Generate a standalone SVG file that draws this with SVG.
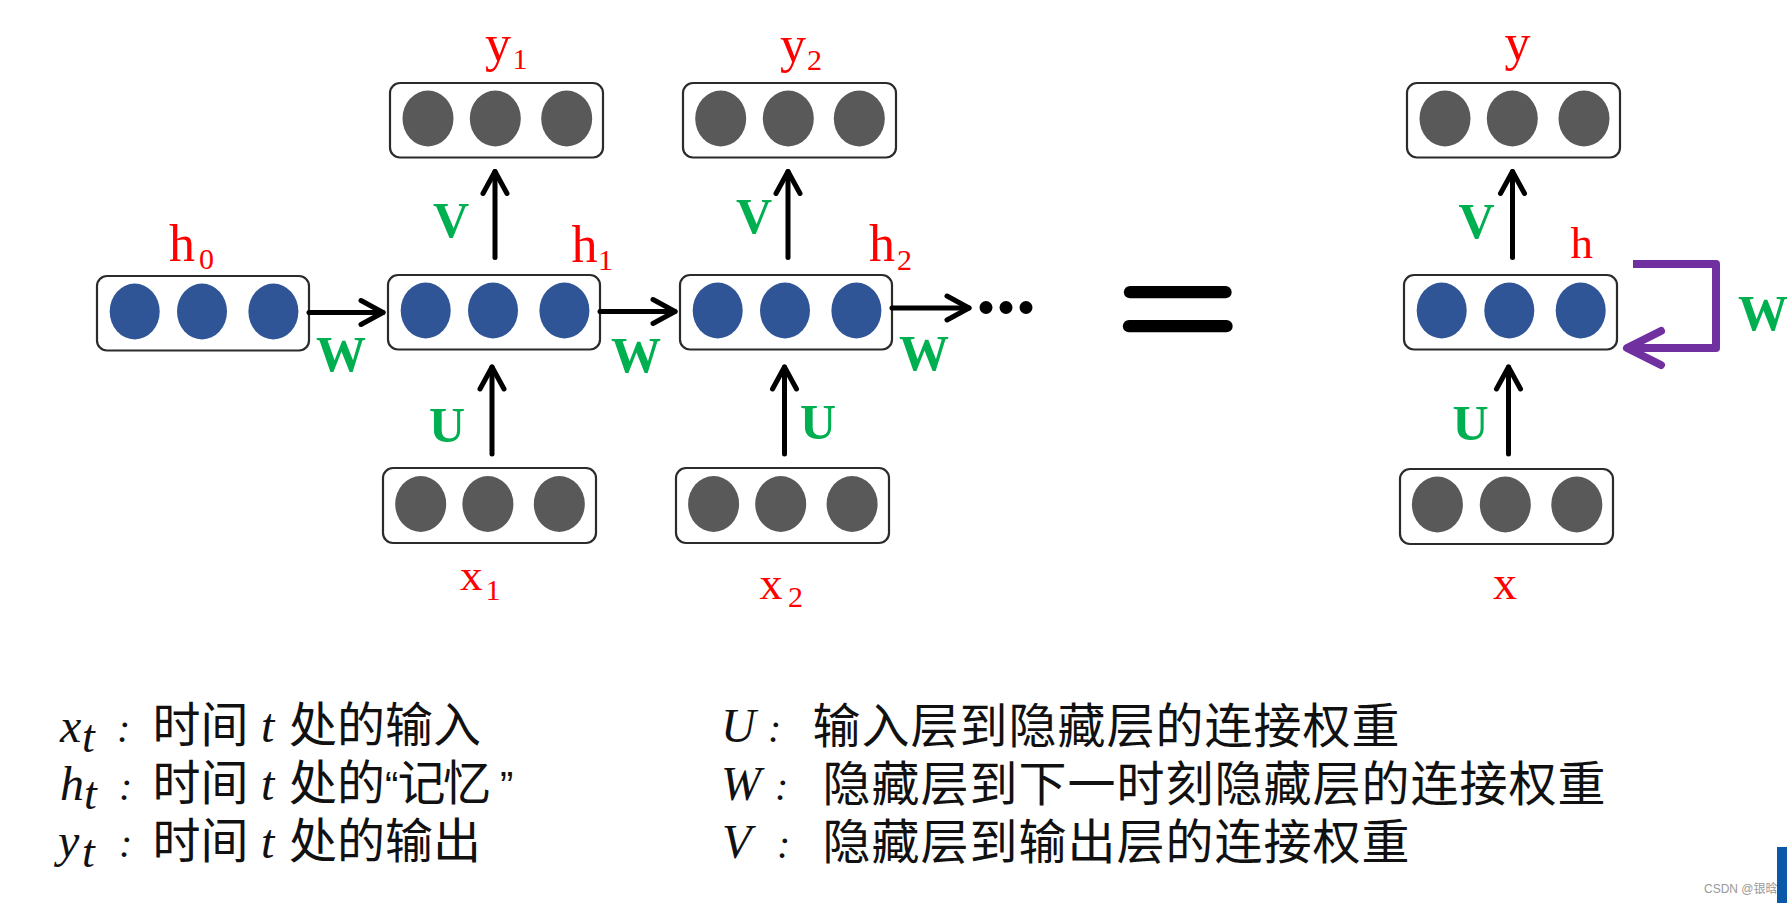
<svg xmlns="http://www.w3.org/2000/svg" width="1787" height="903" viewBox="0 0 1787 903">
<style>
.box{fill:#fff;stroke:#2b2b2b;stroke-width:2.2}
.bl{fill:#2F5597}
.gr{fill:#595959}
.red{font-family:"Liberation Serif","DejaVu Serif",serif;fill:#FF0000}
.grn{font-family:"Liberation Serif","DejaVu Serif",serif;font-weight:bold;fill:#00B050;font-size:50px}
.wl{text-anchor:middle}
.arr{stroke:#000;stroke-width:5;stroke-linecap:round;fill:none}
.it{font-family:"Liberation Serif","DejaVu Serif",serif;font-style:italic;fill:#111}
.cjk{font-family:"Noto Sans CJK SC","Noto Sans",sans-serif;font-size:48px;fill:#111}
.q{font-family:"Liberation Sans","DejaVu Sans",sans-serif;font-size:40px;fill:#111}
</style>
<defs>
<marker id="ah" viewBox="-26 -16 32 32" refX="0" refY="0" markerWidth="32" markerHeight="32" markerUnits="userSpaceOnUse" orient="auto">
<path d="M-22,-12 L0,0 L-22,12" fill="none" stroke="#000" stroke-width="5" stroke-linecap="round" stroke-linejoin="round"/>
</marker>
<marker id="ahp" viewBox="-42 -22 50 44" refX="0" refY="0" markerWidth="50" markerHeight="44" markerUnits="userSpaceOnUse" orient="auto">
<path d="M-34,-17 L0,0 L-34,17" fill="none" stroke="#7030A0" stroke-width="8" stroke-linecap="round" stroke-linejoin="round"/>
</marker>
</defs>
<rect width="1787" height="903" fill="#fff"/>

<g id="node-h0">
<g transform="translate(97,276)"><rect class="box" width="212" height="74.5" rx="10"/><ellipse class="bl" cx="37.7" cy="35.5" rx="25" ry="28"/><ellipse class="bl" cx="105" cy="35.5" rx="25" ry="28"/><ellipse class="bl" cx="176.4" cy="35.5" rx="25" ry="28"/></g>
<text class="red" x="169" y="261" font-size="52">h<tspan x="199" y="269" font-size="30">0</tspan></text>
</g>
<g id="node-h1">
<g transform="translate(388,275)"><rect class="box" width="212" height="74.5" rx="10"/><ellipse class="bl" cx="37.7" cy="35.5" rx="25" ry="28"/><ellipse class="bl" cx="105" cy="35.5" rx="25" ry="28"/><ellipse class="bl" cx="176.4" cy="35.5" rx="25" ry="28"/></g>
<text class="red" x="571.5" y="261.5" font-size="52">h<tspan x="598" y="270" font-size="30">1</tspan></text>
</g>
<g id="node-h2">
<g transform="translate(680,275)"><rect class="box" width="212" height="74.5" rx="10"/><ellipse class="bl" cx="37.7" cy="35.5" rx="25" ry="28"/><ellipse class="bl" cx="105" cy="35.5" rx="25" ry="28"/><ellipse class="bl" cx="176.4" cy="35.5" rx="25" ry="28"/></g>
<text class="red" x="869" y="261" font-size="52">h<tspan x="897" y="269.5" font-size="30">2</tspan></text>
</g>
<g id="node-h">
<g transform="translate(1404,275)"><rect class="box" width="213" height="74.5" rx="10"/><ellipse class="bl" cx="37.7" cy="35.5" rx="25" ry="28"/><ellipse class="bl" cx="105.3" cy="35.5" rx="25" ry="28"/><ellipse class="bl" cx="176.7" cy="35.5" rx="25" ry="28"/></g>
<text class="red" x="1570.5" y="257.5" font-size="45">h</text>
</g>
<g id="node-y1">
<g transform="translate(390,83)"><rect class="box" width="213" height="74.5" rx="10"/><ellipse class="gr" cx="38" cy="35.5" rx="25.5" ry="28"/><ellipse class="gr" cx="105.3" cy="35.5" rx="25.5" ry="28"/><ellipse class="gr" cx="176.7" cy="35.5" rx="25.5" ry="28"/></g>
<text class="red" x="485" y="60.5" font-size="52">y<tspan x="512.5" y="68.5" font-size="30">1</tspan></text>
</g>
<g id="node-y2">
<g transform="translate(683,83)"><rect class="box" width="213" height="74.5" rx="10"/><ellipse class="gr" cx="37.7" cy="35.5" rx="25.5" ry="28"/><ellipse class="gr" cx="105.3" cy="35.5" rx="25.5" ry="28"/><ellipse class="gr" cx="176.3" cy="35.5" rx="25.5" ry="28"/></g>
<text class="red" x="780" y="62" font-size="52">y<tspan x="807" y="70" font-size="30">2</tspan></text>
</g>
<g id="node-y">
<g transform="translate(1407,83)"><rect class="box" width="213" height="74.5" rx="10"/><ellipse class="gr" cx="38" cy="35.5" rx="25.5" ry="28"/><ellipse class="gr" cx="105.3" cy="35.5" rx="25.5" ry="28"/><ellipse class="gr" cx="177" cy="35.5" rx="25.5" ry="28"/></g>
<text class="red" x="1504.5" y="60" font-size="52">y</text>
</g>
<g id="node-x1">
<g transform="translate(383,468)"><rect class="box" width="213" height="75" rx="10"/><ellipse class="gr" cx="37.7" cy="36" rx="25.5" ry="28"/><ellipse class="gr" cx="104.9" cy="36" rx="25.5" ry="28"/><ellipse class="gr" cx="176.3" cy="36" rx="25.5" ry="28"/></g>
<text class="red" x="460" y="590" font-size="45">x<tspan x="485.5" y="600" font-size="30">1</tspan></text>
</g>
<g id="node-x2">
<g transform="translate(676,468)"><rect class="box" width="213" height="75" rx="10"/><ellipse class="gr" cx="37.6" cy="36" rx="25.5" ry="28"/><ellipse class="gr" cx="104.7" cy="36" rx="25.5" ry="28"/><ellipse class="gr" cx="176.1" cy="36" rx="25.5" ry="28"/></g>
<text class="red" x="759.5" y="599" font-size="46">x<tspan x="788" y="606.5" font-size="30">2</tspan></text>
</g>
<g id="node-x">
<g transform="translate(1400,469)"><rect class="box" width="213" height="75" rx="10"/><ellipse class="gr" cx="37.4" cy="35.5" rx="25.5" ry="28"/><ellipse class="gr" cx="105.3" cy="35.5" rx="25.5" ry="28"/><ellipse class="gr" cx="176.8" cy="35.5" rx="25.5" ry="28"/></g>
<text class="red" x="1493" y="599" font-size="48">x</text>
</g>

<g id="connectors">
<line class="arr" x1="309" y1="312.5" x2="383" y2="312.5" marker-end="url(#ah)" stroke-linecap="butt"/>
<line class="arr" x1="600" y1="311.5" x2="675" y2="311.5" marker-end="url(#ah)" stroke-linecap="butt"/>
<line class="arr" x1="892" y1="308" x2="969" y2="308" marker-end="url(#ah)" stroke-linecap="butt"/>
<line class="arr" x1="495" y1="257.5" x2="495" y2="171.5" marker-end="url(#ah)"/>
<line class="arr" x1="788" y1="257.5" x2="788" y2="171.5" marker-end="url(#ah)"/>
<line class="arr" x1="1512.5" y1="257.5" x2="1512.5" y2="171.5" marker-end="url(#ah)"/>
<line class="arr" x1="492" y1="454" x2="492" y2="367" marker-end="url(#ah)"/>
<line class="arr" x1="784.5" y1="454" x2="784.5" y2="367" marker-end="url(#ah)"/>
<line class="arr" x1="1508.5" y1="454" x2="1508.5" y2="367" marker-end="url(#ah)"/>
<path d="M1633,264 H1716 V348 H1627" fill="none" stroke="#7030A0" stroke-width="8" stroke-linejoin="round" marker-end="url(#ahp)"/>
</g>

<g id="weights">
<text class="grn" x="433" y="237">V</text>
<text class="grn" x="736" y="233">V</text>
<text class="grn" x="1458.5" y="238">V</text>
<text class="grn" x="429" y="442">U</text>
<text class="grn" x="800" y="439">U</text>
<text class="grn" x="1452.5" y="440">U</text>
<text class="grn wl" x="341" y="370.5">W</text>
<text class="grn wl" x="636" y="371.5">W</text>
<text class="grn wl" x="924" y="370">W</text>
<text class="grn" x="1738" y="330">W</text>
</g>

<g id="ellipsis">
<circle cx="986" cy="307.5" r="6.5" fill="#000"/>
<circle cx="1006" cy="307.5" r="6.5" fill="#000"/>
<circle cx="1026" cy="307.5" r="6.5" fill="#000"/>
</g>

<g id="equals" stroke="#000" stroke-width="12.3" stroke-linecap="round">
<line x1="1130" y1="292.2" x2="1225.5" y2="292.2"/>
<line x1="1129" y1="326.2" x2="1226.5" y2="326.2"/>
</g>

<g id="legend-left">
<text y="742"><tspan class="it" x="60" font-size="48">x</tspan><tspan class="it" x="82" y="752" font-size="46">t</tspan><tspan class="it" x="117" y="742" font-size="40">:</tspan><tspan class="cjk" x="152.5">时间</tspan><tspan class="it" x="261" font-size="48">t</tspan><tspan class="cjk" x="289">处的输入</tspan></text>
<text y="800"><tspan class="it" x="60" font-size="48">h</tspan><tspan class="it" x="84" y="809" font-size="46">t</tspan><tspan class="it" x="119" y="800" font-size="40">:</tspan><tspan class="cjk" x="152.5">时间</tspan><tspan class="it" x="261" font-size="48">t</tspan><tspan class="cjk" x="289">处的</tspan><tspan class="q" x="385">“</tspan><tspan class="cjk" x="397.5">记</tspan><tspan class="cjk" x="443">忆</tspan><tspan class="q" x="500">”</tspan></text>
<text y="857"><tspan class="it" x="58" font-size="48">y</tspan><tspan class="it" x="82" y="867" font-size="46">t</tspan><tspan class="it" x="119" y="857" font-size="40">:</tspan><tspan class="cjk" x="152.5" y="858">时间</tspan><tspan class="it" x="261" font-size="48">t</tspan><tspan class="cjk" x="289">处的输出</tspan></text>
</g>

<g id="legend-right">
<text y="742"><tspan class="it" x="721" font-size="48">U</tspan><tspan class="it" x="768" font-size="40">:</tspan><tspan class="cjk" x="812.5" y="743" letter-spacing="1">输入层到隐藏层的连接权重</tspan></text>
<text y="800"><tspan class="it" x="721" font-size="48">W</tspan><tspan class="it" x="775" font-size="40">:</tspan><tspan class="cjk" x="822.5" y="801" letter-spacing="1">隐藏层到下一时刻隐藏层的连接权重</tspan></text>
<text y="858"><tspan class="it" x="722" font-size="48">V</tspan><tspan class="it" x="777" font-size="40">:</tspan><tspan class="cjk" x="822.5" y="859" letter-spacing="1">隐藏层到输出层的连接权重</tspan></text>
</g>

<g id="watermark">
<text x="1704" y="893" font-family="'Liberation Sans','Noto Sans CJK SC',sans-serif" font-size="12" fill="#999">CSDN @银晗</text>
<rect x="1777" y="847" width="10" height="56" fill="#0B57A8"/>
</g>
</svg>
